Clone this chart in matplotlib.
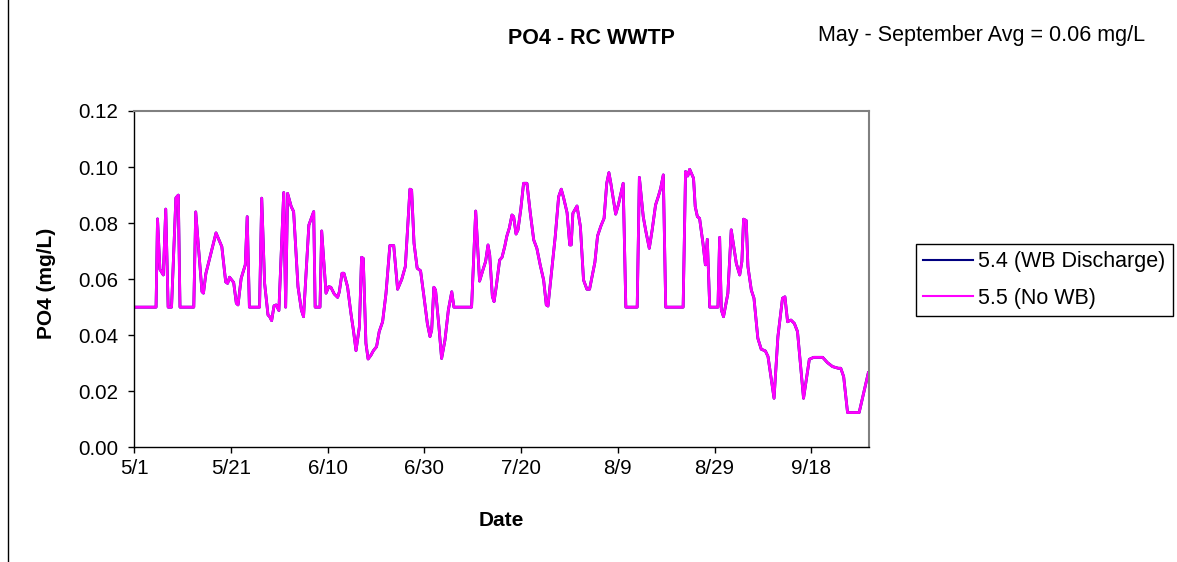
import matplotlib
matplotlib.use("Agg")
import matplotlib.pyplot as plt
from matplotlib.lines import Line2D

plt.rcParams['font.family'] = ['Liberation Sans', 'DejaVu Sans']

# ---- data (days since 5/1, PO4 mg/L) ----
day_offset = [
    0, 4.5, 4.8, 5.3, 6.0, 6.5, 7.0, 7.7, 8.6, 9.1, 9.45, 12.3, 12.7, 14.0, 14.3, 14.8,
    16.9, 18.1, 18.9, 19.3, 19.7, 20.55, 21.1, 21.45, 22.1, 22.95, 23.35, 23.8, 25.9,
    26.35, 26.95, 27.65, 28.0, 28.4, 28.9, 29.35, 29.9, 30.9, 31.3, 31.7, 32.45, 32.95,
    33.85, 34.55, 35.0, 36.1, 36.6, 37.1, 37.4, 38.4, 38.75, 39.65, 40.2, 40.65, 41.35,
    42.05, 42.4, 42.95, 43.35, 44.1, 44.8, 45.3, 45.85, 46.55, 47.0, 47.35, 47.9, 48.35,
    48.95, 49.45, 50.1, 50.65, 51.35, 52.05, 52.85, 53.65, 54.45, 55.3, 56.05, 56.5, 57.0,
    57.35, 57.85, 58.5, 59.2, 59.9, 60.6, 61.15, 61.5, 61.95, 62.3, 63.0, 63.55, 64.25,
    64.95, 65.65, 66.1, 69.75, 70.6, 71.4, 72.1, 72.65, 73.15, 73.5, 74.05, 74.4, 74.85,
    75.55, 76.05, 76.6, 77.05, 77.55, 78.1, 78.45, 78.95, 79.35, 79.95, 80.5, 81.2, 81.9,
    82.6, 83.25, 83.95, 84.65, 85.2, 85.55, 86.25, 87.05, 87.75, 88.3, 88.8, 89.5, 90.05,
    90.35, 90.7, 91.55, 92.25, 92.9, 93.6, 94.15, 94.8, 95.25, 95.8, 96.5, 97.15, 97.7,
    98.15, 98.55, 99.55, 100.1, 101.1, 101.65, 104.0, 104.45, 105.25, 105.8, 106.5, 107.1,
    107.8, 108.35, 108.85, 109.4, 109.9, 113.5, 114.0, 114.45, 114.85, 115.65, 116.0,
    116.45, 116.9, 117.6, 118.1, 118.5, 119.0, 120.7, 121.05, 121.4, 121.85, 122.75,
    123.45, 124.5, 125.2, 125.65, 126.0, 126.55, 126.9, 127.6, 128.15, 128.95, 129.65,
    130.5, 131.05, 132.3, 133.1, 134.05, 134.55, 135.1, 135.8, 136.5, 137.15, 138.4,
    139.6, 140.5, 142.35, 143.35, 144.4, 145.6, 146.1, 146.7, 147.5, 149.9, 151.8,
]
po4_no_wb = [
    0.050, 0.050, 0.0815, 0.0635, 0.0615, 0.085, 0.050, 0.050, 0.089, 0.090, 0.050, 0.050,
    0.084, 0.0555, 0.055, 0.062, 0.0765, 0.0716, 0.059, 0.0585, 0.0607, 0.0588, 0.0514,
    0.0508, 0.0603, 0.0651, 0.0823, 0.050, 0.050, 0.0889, 0.0585, 0.0472, 0.0466, 0.0452,
    0.0505, 0.0508, 0.0488, 0.0909, 0.050, 0.0906, 0.0859, 0.0841, 0.0573, 0.049, 0.0466,
    0.0793, 0.0817, 0.0841, 0.050, 0.050, 0.0772, 0.055, 0.0573, 0.0571, 0.0547, 0.0535,
    0.0555, 0.0621, 0.0621, 0.0573, 0.0478, 0.0419, 0.0345, 0.043, 0.0678, 0.0674, 0.0371,
    0.0315, 0.0329, 0.0345, 0.0359, 0.0413, 0.0448, 0.0549, 0.072, 0.072, 0.0564, 0.0599,
    0.0645, 0.0776, 0.0921, 0.0918, 0.0728, 0.0639, 0.063, 0.0538, 0.0442, 0.0395, 0.0419,
    0.0571, 0.0561, 0.043, 0.0317, 0.0383, 0.049, 0.0555, 0.050, 0.050, 0.0843, 0.0593,
    0.0633, 0.0663, 0.0722, 0.0686, 0.0538, 0.052, 0.0573, 0.0668, 0.0678, 0.0716, 0.0754,
    0.0782, 0.0829, 0.0823, 0.0761, 0.0776, 0.0853, 0.0942, 0.0942, 0.0835, 0.074, 0.071,
    0.065, 0.0597, 0.0508, 0.0504, 0.0621, 0.0752, 0.0894, 0.0921, 0.0889, 0.0837, 0.0722,
    0.0722, 0.0835, 0.0861, 0.0788, 0.0597, 0.0564, 0.0564, 0.0621, 0.066, 0.0754, 0.079,
    0.0817, 0.0942, 0.098, 0.0942, 0.0832, 0.0865, 0.0942, 0.050, 0.050, 0.0963, 0.0823,
    0.077, 0.071, 0.0776, 0.0865, 0.0894, 0.0924, 0.0972, 0.050, 0.050, 0.0984, 0.0968,
    0.0992, 0.096, 0.0859, 0.0823, 0.0817, 0.0728, 0.0651, 0.0742, 0.050, 0.050, 0.0749,
    0.049, 0.0466, 0.0549, 0.0776, 0.0656, 0.0615, 0.0663, 0.0814, 0.0809, 0.0645, 0.0561,
    0.0532, 0.0389, 0.035, 0.0344, 0.0324, 0.0175, 0.0395, 0.0532, 0.0537, 0.0448, 0.0454,
    0.0442, 0.0413, 0.0175, 0.0314, 0.0321, 0.0321, 0.0302, 0.0288, 0.0282, 0.0282,
    0.0252, 0.0124, 0.0124, 0.0266,
]
# the WB Discharge series lies exactly beneath the No WB series in the reference
po4_wb_discharge = list(po4_no_wb)

tick_days = [0, 20, 40, 60, 80, 100, 120, 140]
tick_labels = ['5/1', '5/21', '6/10', '6/30', '7/20', '8/9', '8/29', '9/18']
y_ticks = [0.00, 0.02, 0.04, 0.06, 0.08, 0.10, 0.12]
series_names = ['5.4 (WB Discharge)', '5.5 (No WB)']
title = 'PO4 - RC WWTP'
avg_note = 'May - September Avg = 0.06 mg/L'

# ---- figure ----
W, H = 1177, 562
fig = plt.figure(figsize=(W / 100, H / 100), dpi=100)
fig.patch.set_facecolor('white')

ax = fig.add_axes([134.3 / W, 1 - 447.3 / H, (869.3 - 134.3) / W, (447.3 - 111) / H])

l1, = ax.plot(day_offset, po4_wb_discharge, color='#000080', lw=2.0, label=series_names[0])
l2, = ax.plot(day_offset, po4_no_wb, color='#FF00FF', lw=2.0, label=series_names[1])

ax.set_xlim(0, 152)
ax.set_ylim(0, 0.12)
ax.set_xticks(tick_days)
ax.set_xticklabels(tick_labels)
ax.set_yticks(y_ticks)
ax.set_yticklabels([f'{v:.2f}' for v in y_ticks])
ax.tick_params(axis='both', direction='out', length=4.3, width=1.0, colors='black',
               labelsize=14.8)
ax.tick_params(axis='x', pad=4)
ax.tick_params(axis='y', pad=7)

for s in ['left', 'bottom']:
    ax.spines[s].set_color('black')
    ax.spines[s].set_linewidth(1.0)
for s in ['top', 'right']:
    ax.spines[s].set_color('#808080')
    ax.spines[s].set_linewidth(1.5)

# texts
fig.text(591 / W, 1 - 39 / H, title, ha='center', va='center', fontsize=15.5,
         fontweight='bold')
fig.text(818 / W, 1 - 36 / H, avg_note, ha='left', va='center', fontsize=15.5)
fig.text(47 / W, 1 - 283 / H, 'PO4 (mg/L)', ha='center', va='center', rotation=90,
         fontsize=15, fontweight='bold')
fig.text(501.8 / W, 1 - 520 / H, 'Date', ha='center', va='center', fontsize=15,
         fontweight='bold')

leg = fig.legend(handles=[l1, l2], loc='upper left',
                 bbox_to_anchor=(915.7 / W, 1 - 243.5 / H), fontsize=15.5,
                 frameon=True, fancybox=False, edgecolor='black', framealpha=1,
                 borderpad=0.35, handlelength=2.3, handletextpad=0.25,
                 labelspacing=0.73, borderaxespad=0)
leg.get_frame().set_linewidth(1.0)
for ln in leg.get_lines():
    ln.set_linewidth(1.5)

# outer chart border (left edge)
fig.add_artist(Line2D([8 / W, 8 / W], [0, 1], transform=fig.transFigure,
                      color='black', lw=1.0))

fig.savefig('out.png', dpi=100)
